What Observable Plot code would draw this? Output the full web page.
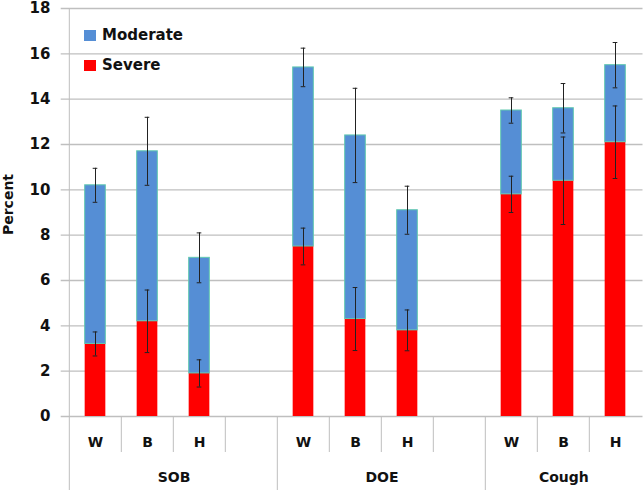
<!DOCTYPE html>
<html><head><meta charset="utf-8">
<script src="https://cdn.jsdelivr.net/npm/d3@7"></script>
<script src="https://cdn.jsdelivr.net/npm/@observablehq/plot@0.6"></script>
<style>
body{margin:0;background:#fff;font-family:"DejaVu Sans",sans-serif;}
#wrap{position:relative;width:644px;height:490px;}
.legend{position:absolute;left:84px;top:27px;font-weight:bold;font-size:15px;color:#111;}
.legend .item{display:flex;align-items:center;height:16px;margin-bottom:14px;}
.legend .sw{width:12px;height:11px;margin-right:6px;display:inline-block;}
</style></head><body><div id="wrap"></div>
<script>
// ---- data ----
const groups = ["SOB", "DOE", "Cough"];
const races = ["W", "B", "H"];
const severe = [[3.2, 4.2, 1.9], [7.5, 4.3, 3.8], [9.8, 10.4, 12.1]];
const moderate = [[7.0, 7.5, 5.1], [7.9, 8.1, 5.3], [3.7, 3.2, 3.4]];
const severeErr = [[0.53, 1.38, 0.6], [0.81, 1.39, 0.9], [0.8, 1.93, 1.6]];
const totalErr = [[0.75, 1.5, 1.1], [0.85, 2.08, 1.06], [0.56, 1.09, 1.0]];
const yTicks = [0, 2, 4, 6, 8, 10, 12, 14, 16, 18];
const seriesNames = ["Moderate", "Severe"];
const seriesColors = ["#558ed5", "#ff0000"];

// ---- layout ----
const W = 644, H = 490, mL = 66.7, mR = 1.5, mT = 8, mB = 74;
const slots = [];
groups.forEach((g, i) => {
  races.forEach(r => slots.push(g + "|" + r));
  if (i < groups.length - 1) slots.push(g + "|");
});
const step = (W - mL - mR) / slots.length;
const barW = 21;
const inset = (step - barW) / 2;
const capInset = (step - 5) / 2;
const frameH = H - mT - mB;

const rows = [];
groups.forEach((g, gi) => races.forEach((r, ri) => {
  const s = severe[gi][ri], m = moderate[gi][ri];
  rows.push({slot: g + "|" + r, group: g, race: r, severe: s, total: s + m,
    sErr: severeErr[gi][ri], tErr: totalErr[gi][ri]});
}));
const firstSlots = groups.map(g => g + "|" + races[0]);
const shortSlots = slots.filter(s => !firstSlots.includes(s));
const raceSlots = slots.filter(s => s.split("|")[1] !== "");
const gridColor = "#bfbfbf";
const errColor = "#222";

const groupLabelMarks = groups.map((g, gi) => {
  const n = slots.filter(s => s.split("|")[0] === g).length;
  return Plot.text([g], {x: () => g + "|" + races[0], text: d => d, frameAnchor: "bottom",
    dy: 61, dx: n * step / 2 - step / 2, fontSize: 14, fill: "#111", lineAnchor: "middle"});
});

const chart = Plot.plot({
  width: W, height: H,
  marginLeft: mL, marginRight: mR, marginTop: mT, marginBottom: mB,
  style: {fontFamily: "DejaVu Sans", fontWeight: "bold", background: "#fff", color: "#111"},
  x: {type: "band", domain: slots, padding: 0, axis: null},
  y: {domain: [0, 18], nice: false, axis: null},
  marks: [
    Plot.ruleY(yTicks, {y: d => d, stroke: gridColor, strokeWidth: 1.3, insetLeft: -6}),
    Plot.ruleX(["SOB|W"], {x: d => d, dx: -step / 2, stroke: gridColor, insetBottom: -mB}),
    Plot.ruleX(firstSlots.slice(1), {x: d => d, dx: -step / 2, stroke: gridColor, insetTop: frameH, insetBottom: -mB}),
    Plot.ruleX(shortSlots, {x: d => d, dx: -step / 2, stroke: gridColor, insetTop: frameH, insetBottom: -36}),
    Plot.axisY(yTicks, {tickSize: 0, tickPadding: 16.7, fontSize: 15, label: null, fill: "#111"}),
    Plot.text(["Percent"], {text: d => d, frameAnchor: "left", textAnchor: "middle", lineAnchor: "middle", rotate: -90, dx: -58.2, dy: -8, fontSize: 14, fill: "#111"}),
    Plot.barY(rows, {x: "slot", y1: 0, y2: "severe", fill: seriesColors[1], insetLeft: inset, insetRight: inset}),
    Plot.barY(rows, {x: "slot", y1: "severe", y2: "total", fill: seriesColors[0], stroke: "#62c9b0", strokeWidth: 1, insetLeft: inset, insetRight: inset}),
    Plot.ruleX(rows, {x: "slot", y1: d => d.severe - d.sErr, y2: d => d.severe + d.sErr, stroke: errColor, strokeWidth: 1}),
    Plot.tickY(rows, {x: "slot", y: d => d.severe - d.sErr, stroke: errColor, insetLeft: capInset, insetRight: capInset}),
    Plot.tickY(rows, {x: "slot", y: d => d.severe + d.sErr, stroke: errColor, insetLeft: capInset, insetRight: capInset}),
    Plot.ruleX(rows, {x: "slot", y1: d => d.total - d.tErr, y2: d => d.total + d.tErr, stroke: errColor, strokeWidth: 1}),
    Plot.tickY(rows, {x: "slot", y: d => d.total - d.tErr, stroke: errColor, insetLeft: capInset, insetRight: capInset}),
    Plot.tickY(rows, {x: "slot", y: d => d.total + d.tErr, stroke: errColor, insetLeft: capInset, insetRight: capInset}),
    Plot.text(raceSlots, {x: d => d, text: d => d.split("|")[1], frameAnchor: "bottom", dy: 26, fontSize: 14, fill: "#111", lineAnchor: "middle"}),
    ...groupLabelMarks
  ]
});
const wrap = document.getElementById("wrap");
wrap.appendChild(chart);
const legend = document.createElement("div");
legend.className = "legend";
seriesNames.forEach((name, i) => {
  const item = document.createElement("div");
  item.className = "item";
  const sw = document.createElement("span");
  sw.className = "sw";
  sw.style.background = seriesColors[i];
  const t = document.createElement("span");
  t.textContent = name;
  item.appendChild(sw); item.appendChild(t);
  legend.appendChild(item);
});
wrap.appendChild(legend);
</script></body></html>
